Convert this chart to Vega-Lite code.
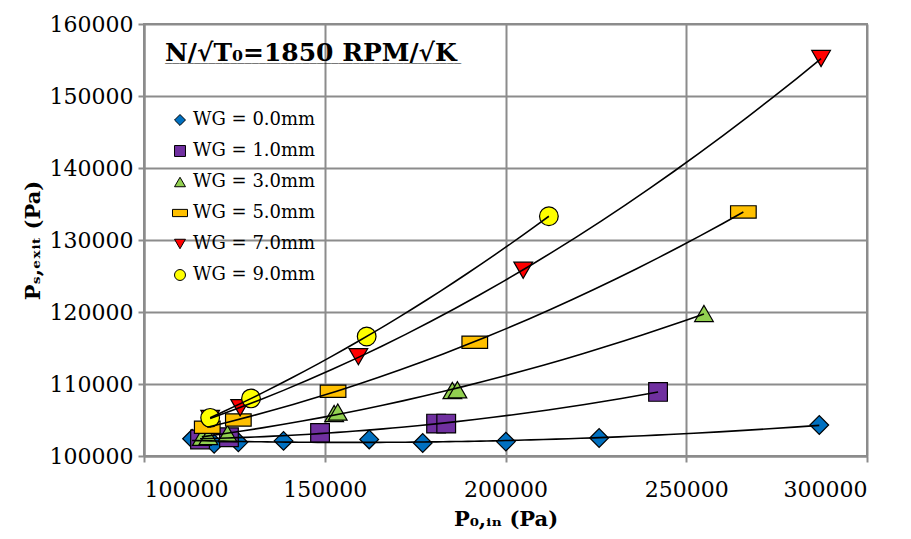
{
  "$schema": "https://vega.github.io/schema/vega-lite/v6.json",
  "width": 723,
  "height": 432,
  "autosize": "none",
  "padding": {"left": 144, "top": 24, "right": 44, "bottom": 83},
  "background": "white",
  "config": {
    "font": "DejaVu Serif",
    "view": {"stroke": "#8C8C8C", "strokeWidth": 2},
    "axis": {
      "labelFont": "DejaVu Serif",
      "labelFontSize": 22,
      "labelColor": "black",
      "titleFont": "DejaVu Serif",
      "titleFontSize": 21,
      "titleFontWeight": "bold",
      "titleColor": "black",
      "gridColor": "#8C8C8C",
      "gridWidth": 2,
      "gridOpacity": 1,
      "domainColor": "#8C8C8C",
      "domainWidth": 2,
      "tickColor": "#8C8C8C",
      "tickWidth": 2,
      "tickSize": 6
    }
  },
  "title": {
    "text": "N/\u221aT\u2080=1850 RPM/\u221aK",
    "subtitle": "_________________________________________",
    "subtitleFont": "DejaVu Sans Mono",
    "subtitleFontSize": 12,
    "subtitleColor": "black",
    "subtitlePadding": -14,
    "anchor": "start",
    "frame": "group",
    "orient": "top",
    "offset": 0,
    "dx": 21,
    "dy": 53,
    "font": "DejaVu Serif",
    "fontSize": 25,
    "fontWeight": "bold",
    "color": "black"
  },
  "data": {
    "values": [
      {"WG": "WG = 0.0mm", "P0": 113300, "Ps": 102400},
      {"WG": "WG = 0.0mm", "P0": 119400, "Ps": 101700},
      {"WG": "WG = 0.0mm", "P0": 126100, "Ps": 101900},
      {"WG": "WG = 0.0mm", "P0": 138600, "Ps": 102100},
      {"WG": "WG = 0.0mm", "P0": 162300, "Ps": 102300},
      {"WG": "WG = 0.0mm", "P0": 177100, "Ps": 101800},
      {"WG": "WG = 0.0mm", "P0": 200100, "Ps": 102000},
      {"WG": "WG = 0.0mm", "P0": 225900, "Ps": 102500},
      {"WG": "WG = 0.0mm", "P0": 286800, "Ps": 104300},
      {"WG": "WG = 1.0mm", "P0": 115500, "Ps": 102300},
      {"WG": "WG = 1.0mm", "P0": 123500, "Ps": 102600},
      {"WG": "WG = 1.0mm", "P0": 148700, "Ps": 103200},
      {"WG": "WG = 1.0mm", "P0": 180800, "Ps": 104500},
      {"WG": "WG = 1.0mm", "P0": 183600, "Ps": 104500},
      {"WG": "WG = 1.0mm", "P0": 242200, "Ps": 108900},
      {"WG": "WG = 3.0mm", "P0": 116000, "Ps": 102600},
      {"WG": "WG = 3.0mm", "P0": 117800, "Ps": 102700},
      {"WG": "WG = 3.0mm", "P0": 123100, "Ps": 103100},
      {"WG": "WG = 3.0mm", "P0": 152600, "Ps": 105900},
      {"WG": "WG = 3.0mm", "P0": 153600, "Ps": 106100},
      {"WG": "WG = 3.0mm", "P0": 185300, "Ps": 109100},
      {"WG": "WG = 3.0mm", "P0": 186700, "Ps": 109200},
      {"WG": "WG = 3.0mm", "P0": 254900, "Ps": 119800},
      {"WG": "WG = 5.0mm", "P0": 117500, "Ps": 104000},
      {"WG": "WG = 5.0mm", "P0": 126100, "Ps": 105000},
      {"WG": "WG = 5.0mm", "P0": 152300, "Ps": 109000},
      {"WG": "WG = 5.0mm", "P0": 191500, "Ps": 115800},
      {"WG": "WG = 5.0mm", "P0": 265800, "Ps": 133900},
      {"WG": "WG = 7.0mm", "P0": 118300, "Ps": 105200},
      {"WG": "WG = 7.0mm", "P0": 126600, "Ps": 106700},
      {"WG": "WG = 7.0mm", "P0": 159300, "Ps": 113800},
      {"WG": "WG = 7.0mm", "P0": 204900, "Ps": 125800},
      {"WG": "WG = 7.0mm", "P0": 287300, "Ps": 155200},
      {"WG": "WG = 9.0mm", "P0": 118300, "Ps": 105300},
      {"WG": "WG = 9.0mm", "P0": 129600, "Ps": 108000},
      {"WG": "WG = 9.0mm", "P0": 161600, "Ps": 116600},
      {"WG": "WG = 9.0mm", "P0": 212000, "Ps": 133300}
    ]
  },
  "layer": [
    {
      "mark": {"type": "point", "filled": true, "stroke": "black", "strokeWidth": 1.2, "opacity": 1, "size": 350},
      "encoding": {
        "x": {
          "field": "P0", "type": "quantitative",
          "scale": {"domain": [100000, 300000], "nice": false, "zero": false},
          "axis": {"values": [100000, 150000, 200000, 250000, 300000], "format": "d", "title": "P\u2080,\u1d62\u2099 (Pa)", "labelPadding": 17, "titlePadding": 8}
        },
        "y": {
          "field": "Ps", "type": "quantitative",
          "scale": {"domain": [100000, 160000], "nice": false, "zero": false},
          "axis": {"values": [100000, 110000, 120000, 130000, 140000, 150000, 160000], "format": "d", "title": "P\u209b,\u2091\u2093\u1d62\u209c (Pa)", "labelPadding": 5, "titlePadding": 6}
        },
        "color": {
          "field": "WG", "type": "nominal",
          "scale": {
            "domain": ["WG = 0.0mm", "WG = 1.0mm", "WG = 3.0mm", "WG = 5.0mm", "WG = 7.0mm", "WG = 9.0mm"],
            "range": ["#0070C0", "#7030A0", "#92D050", "#FFC000", "#FF0000", "#FFFF00"]
          },
          "legend": {
            "title": null,
            "orient": "none",
            "legendX": 27,
            "legendY": 87,
            "labelFont": "DejaVu Serif",
            "labelFontSize": 18,
            "labelColor": "black",
            "symbolSize": 120,
            "symbolStrokeColor": "black",
            "symbolStrokeWidth": 1,
            "rowPadding": 13,
            "labelOffset": 4
          }
        },
        "shape": {
          "field": "WG", "type": "nominal",
          "scale": {
            "domain": ["WG = 0.0mm", "WG = 1.0mm", "WG = 3.0mm", "WG = 5.0mm", "WG = 7.0mm", "WG = 9.0mm"],
            "range": ["diamond", "square", "triangle-up", "M-1.37,-0.66L1.37,-0.66L1.37,0.66L-1.37,0.66Z", "triangle-down", "circle"]
          }
        }
      }
    },
    {
      "transform": [
        {"regression": "Ps", "on": "P0", "groupby": ["WG"], "method": "poly", "order": 2}
      ],
      "mark": {"type": "line", "color": "black", "strokeWidth": 1.6},
      "encoding": {
        "x": {"field": "P0", "type": "quantitative"},
        "y": {"field": "Ps", "type": "quantitative"},
        "detail": {"field": "WG", "type": "nominal"}
      }
    }
  ]
}
